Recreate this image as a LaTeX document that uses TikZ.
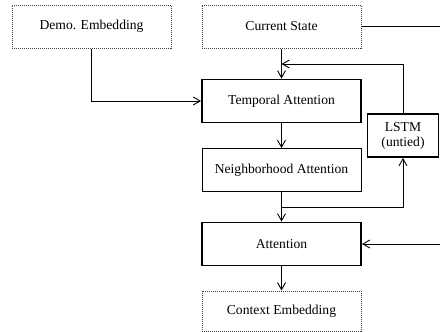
\documentclass[tikz,border=0pt]{standalone}
\usepackage{fontspec}
\setmainfont{Liberation Serif}
\usetikzlibrary{arrows.meta}

\tikzset{
  io box/.style={draw=black!75, line width=1pt, dash pattern=on 1pt off 1pt, minimum width=159pt, minimum height=43pt, inner sep=0pt},
  plain box/.style={draw, line width=0.9pt, minimum width=159pt, minimum height=43pt, inner sep=0pt},
  bold box/.style={draw, line width=1.9pt, minimum width=159pt, minimum height=43pt, inner sep=0pt},
  flow/.style={->, line width=0.9pt},
}

\begin{document}
\begin{tikzpicture}[x=1pt, y=-1pt, >={Straight Barb[length=7pt,width=8pt]}, font=\fontsize{13.6}{16}\selectfont]
\useasboundingbox (0, 0) rectangle (440, 332);

\node[io box] (demo) at (91.5, 26.5) {Demo. Embedding};
\node[io box] (state) at (281.5, 26.5) {Current State};
\node[bold box] (temporal) at (281.5, 101) {Temporal Attention};
\node[plain box] (neighbor) at (281.5, 170) {Neighborhood Attention};
\node[bold box] (attention) at (281.5, 244) {Attention};
\node[io box, minimum height=40pt] (context) at (281.5, 311) {Context Embedding};
\node[bold box, minimum width=71pt, minimum height=43pt, align=center, font=\fontsize{13.6}{15}\selectfont] (lstm) at (403, 135.5) {LSTM\\(untied)};

\coordinate (state right) at (440, 26.5);
\coordinate (attention in) at (440, 244);
\coordinate (split) at (281.5, 207);

\draw[flow] (demo.south) |- (temporal.west);
\draw[flow] (state.south) -- (temporal.north);
\draw[flow] (lstm.north) |- (281.5, 64);
\draw[flow] (temporal.south) -- (neighbor.north);
\draw[flow] (neighbor.south) -- (attention.north);
\draw[flow] (split) -| (lstm.south);
\draw[flow] (attention.south) -- (context.north);
\draw[line width=0.9pt] (state.east) -- (state right);
\draw[flow] (attention in) -- (attention.east);

\end{tikzpicture}
\end{document}
